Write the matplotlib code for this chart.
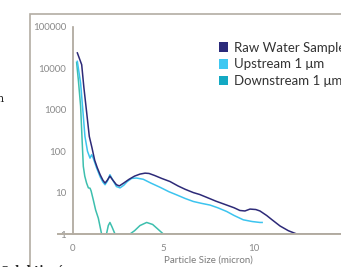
import matplotlib.pyplot as plt
from matplotlib.patches import Patch, Rectangle

# particle counts per size
raw_x = [0.24, 0.48, 0.6, 0.75, 0.9, 1.05, 1.2, 1.34, 1.5, 1.65, 1.77, 1.9, 2.04, 2.2, 2.4,
         2.56, 2.8, 3.1, 3.4, 3.7, 3.98, 4.2, 4.5, 4.9, 5.36, 5.8, 6.2, 6.65, 7.0, 7.38,
         7.9, 8.49, 8.9, 9.22, 9.5, 9.78, 10.1, 10.33, 10.7, 11.0, 11.44, 11.9, 12.36, 13.0, 14.0, 14.8]
raw_y = [23700, 12300, 3500, 900, 228, 120, 60, 40, 27, 20, 17, 20, 25, 20, 15.5,
         14.5, 17, 21, 25, 28, 29.5, 29, 26, 22, 18.5, 14.5, 12, 10, 9, 7.7,
         6.2, 5.0, 4.3, 3.7, 3.6, 4.0, 3.9, 3.6, 2.8, 2.2, 1.56, 1.2, 1.0, 1, 1, 1]

up_x = [0.24, 0.42, 0.55, 0.66, 0.8, 0.94, 1.03, 1.12, 1.3, 1.5, 1.65, 1.77, 1.9, 2.04, 2.2,
        2.4, 2.6, 2.8, 3.0, 3.24, 3.5, 3.88, 4.3, 4.8, 5.3, 5.73, 6.2, 6.65, 7.1, 7.57,
        8.0, 8.49, 8.9, 9.41, 9.9, 10.33, 10.45]
up_y = [14800, 4400, 900, 228, 100, 68, 82, 68, 40, 24, 18, 15.5, 19, 27, 20,
        14, 13, 15, 18.5, 22, 22.5, 21, 17, 13.5, 10.5, 8.8, 7.2, 6.1, 5.5, 5.0,
        4.3, 3.5, 2.8, 2.2, 2.0, 1.9, 1.9]

down_x = [0.2, 0.3, 0.42, 0.5, 0.57, 0.65, 0.75, 0.85, 0.94, 1.0, 1.12, 1.25, 1.4, 1.58,
          1.85, 1.95, 2.04, 2.15, 2.32, 3.15, 3.4, 3.7, 4.07, 4.4, 4.7, 4.99, 14.7]
down_y = [14000, 5000, 1230, 200, 43, 25, 17, 13, 12.8, 11, 6.7, 3.8, 2.4, 1,
          1, 1.6, 1.9, 1.5, 1, 1, 1.2, 1.6, 1.9, 1.7, 1.3, 1, 1]

labels = ['Raw Water Sample', 'Upstream 1 μm', 'Downstream 1 μm']
line_colors = ['#2d2a78', '#3cc4ef', '#3dbfae']
legend_colors = ['#2b2a7a', '#3ec8f2', '#13a9c3']

plt.rcParams['font.family'] = ['Lato', 'DejaVu Sans']

fig = plt.figure(figsize=(3.41, 2.67), dpi=100)
ax = fig.add_axes([73 / 341, 33 / 267, 271.5 / 341, 207 / 267])

ax.plot(down_x, down_y, color=line_colors[2], lw=1.1)
ax.plot(up_x, up_y, color=line_colors[1], lw=1.1)
ax.plot(raw_x, raw_y, color=line_colors[0], lw=1.1)

ax.set_yscale('log')
ax.set_ylim(1, 100000)
ax.set_xlim(0, 15)
ax.set_yticks([1, 10, 100, 1000, 10000, 100000])
ax.set_yticklabels(['1', '10', '100', '1000', '10000', '100000'])
ax.minorticks_off()
ax.set_xticks([0, 5, 10])
ax.tick_params(length=0, labelsize=7, colors='#8a8a8a', pad=5)
ax.tick_params(axis='x', pad=7)
for s in ['top', 'right', 'bottom']:
    ax.spines[s].set_visible(False)
ax.spines['left'].set_color('#aaa398')
ax.spines['left'].set_linewidth(1.2)
# horizontal axis line, extended a little to the left of the y spine
ax.plot([-0.85, 15], [1, 1], color='#b4ada2', lw=1.4, clip_on=False, zorder=5)
ax.set_xlabel('Particle Size (micron)', fontsize=7, color='#7a7a7a', labelpad=2)

handles = [Patch(facecolor=c, edgecolor='none') for c in legend_colors]
fig.legend(handles, labels, loc='upper left', bbox_to_anchor=(212 / 341, 1 - 35 / 267),
           frameon=False, fontsize=9.5, handlelength=0.75, handleheight=0.75,
           handletextpad=0.4, labelspacing=0.36, borderpad=0, labelcolor='#333333')

# page frame around the chart
fig.patches.append(Rectangle((30 / 341, -0.1), 1.2, 1 - 14 / 267 + 0.1, transform=fig.transFigure,
                             fill=False, edgecolor='#b3ada3', lw=1.2))
# cut-off page text
fig.text(4 / 341, 1 - 99 / 267, 'n', ha='right', va='center', fontsize=8, family='DejaVu Serif', color='#222222')
fig.text(0, -3 / 267, 'Selektivní:', ha='left', va='center', fontsize=8, family='DejaVu Serif',
         weight='bold', color='#222222')

fig.savefig('out.png', dpi=100)
